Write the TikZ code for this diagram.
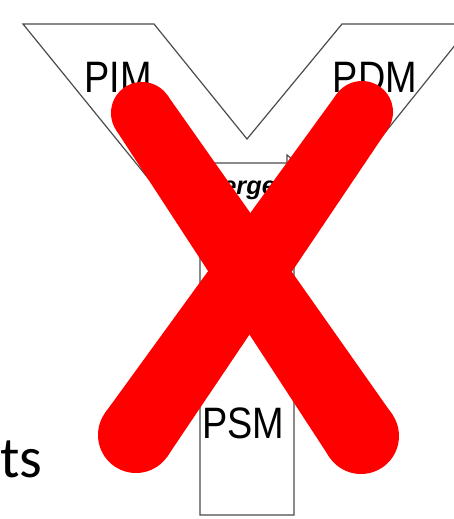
\documentclass[tikz,border=0pt]{standalone}
\usepackage{fontspec}
\setmainfont{Liberation Sans}
\newfontfamily\carlito{Carlito}
\usepackage{xcolor}
\usepackage{tikz}
\usetikzlibrary{calc}

\tikzset{
  linea/.style={line width=0.9pt, black!70},
  etiqueta/.style={font=\fontsize{33}{33}\selectfont, inner sep=0pt, anchor=base, xscale=0.86},
}

\begin{document}
\begin{tikzpicture}[x=0.75pt,y=-0.75pt]
  \useasboundingbox (0,0) rectangle (454,519);

  % Diagrama en Y
  \draw[linea] (23,24) -- (154,24) -- (247,139) -- (342,24) -- (472,24)
    -- (294,246) -- (294,515) -- (200,515) -- (200,242) -- cycle;
  \draw[linea] (200,163) -- (287,163) -- (287,155) -- (299,165); % Flecha

  \node[etiqueta] (pim) at (118,92) {PIM};
  \node[etiqueta] (pdm) at (375,92) {PDM};
  \node[etiqueta] (psm) at (243,438) {PSM};
  \node[font=\bfseries\itshape\fontsize{19}{19}\selectfont, inner sep=0pt, anchor=base west] (merge) at (201,194) {Merge};

  % Texto de la diapositiva
  \node[font=\carlito\fontsize{43.5}{43.5}\selectfont, inner sep=0pt, anchor=base west] (ts) at (0,477) {ts};

  % Cruz roja (trazos mas anchos abajo)
  \coordinate (xa) at (142,113); \coordinate (xb) at (361,436);
  \coordinate (xc) at (362,112); \coordinate (xd) at (136,435);
  \foreach \p/\q in {xa/xb, xc/xd} {
    \fill[red] (\p) circle[radius=23.25pt] (\q) circle[radius=28.5pt];
    \fill[red] ($(\p)!23.25pt!90:(\q)$) -- ($(\q)!28.5pt!-90:(\p)$)
      -- ($(\q)!28.5pt!90:(\p)$) -- ($(\p)!23.25pt!-90:(\q)$) -- cycle;
  }
\end{tikzpicture}
\end{document}
